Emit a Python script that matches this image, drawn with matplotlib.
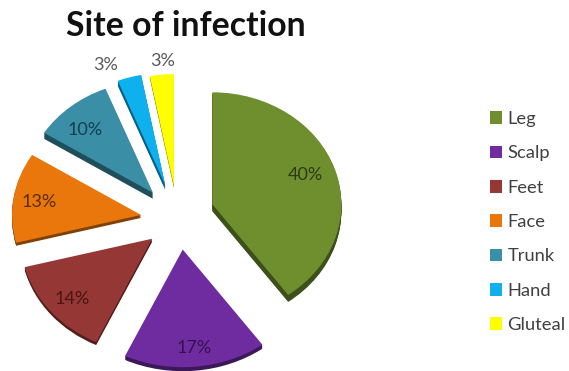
import matplotlib
matplotlib.use("Agg")
import matplotlib.pyplot as plt
import numpy as np
from matplotlib.colors import to_rgb

categories = ["Leg", "Scalp", "Feet", "Face", "Trunk", "Hand", "Gluteal"]
values = [40, 17, 14, 13, 10, 3, 3]
labels = ["40%", "17%", "14%", "13%", "10%", "3%", "3%"]
colors = ["#6f8f2f", "#6f2ca0", "#953735", "#e9770c", "#3a8ea6", "#0fb0ee", "#ffff00"]
explode = [0.28, 0.31, 0.29, 0.29, 0.28, 0.27, 0.25]
radii = [1.0, 1.05, 1.02, 1.0, 1.0, 1.0, 1.0]
nudge_px = [(0, 0), (1, -1), (3, -4), (0, -6), (-2, -3), (-3, 0), (-1, 0)]
depths = [7, 4, 3, 3, 6, 5, 2]
label_dist = [0.75, 0.86, 0.80, 0.80, 0.80, 1.17, 1.15]
label_nudge = [(1, 3), (1, -3), (-1, -3), (0, -1), (-2, -6), (-18, -6), (3, -3)]
label_colors = ["#2c3a12", "#33134f", "#4a1513", "#5c2c02", "#123f4c", "#595959", "#595959"]

W, H = 569, 371
cx, cy, rx, ry = 178, 214, 129, 112

fig = plt.figure(figsize=(W / 100, H / 100), dpi=100)
ax = fig.add_axes([0, 0, 1, 1])


def draw(cols, drop_px=0):
    wedges, _ = ax.pie(values, explode=explode, colors=cols, startangle=90, counterclock=False,
                       radius=1, wedgeprops=dict(linewidth=0))
    for w, r, n, d in zip(wedges, radii, nudge_px, depths):
        w.set_center((w.center[0] + n[0] / rx, w.center[1] + (n[1] - drop_px) / ry))
        w.set_radius(r)
        if drop_px > d:
            w.set_visible(False)
    return wedges


dark = [tuple(c * 0.55 for c in to_rgb(col)) for col in colors]
for i in range(max(depths), 0, -1):
    draw(dark, i)
wedges = draw(colors)

ax.set_aspect("auto")
ax.set_xlim(-cx / rx, (W - cx) / rx)
ax.set_ylim(-(H - cy) / ry, cy / ry)
ax.axis("off")

font = ["Lato", "DejaVu Sans"]
for w, t, d, n, c in zip(wedges, labels, label_dist, label_nudge, label_colors):
    a = np.deg2rad((w.theta1 + w.theta2) / 2)
    x = w.center[0] + d * np.cos(a)
    y = w.center[1] + d * np.sin(a)
    ax.annotate(t, (x, y), xytext=(n[0] * 0.72, n[1] * 0.72), textcoords="offset points",
                ha="center", va="center", fontsize=13, color=c, family=font)

fig.text(185.5 / W, 1 - 26.5 / H, "Site of infection", ha="center", va="center",
         fontsize=24.3, fontweight="bold", color="#111111", family=["Lato", "DejaVu Sans"])

leg = ax.legend(wedges, categories, loc="upper left", bbox_to_anchor=(490 / W, 1 - 111 / H),
                bbox_transform=fig.transFigure, frameon=False, borderpad=0, borderaxespad=0,
                prop=dict(family="Lato", size=13.2), labelspacing=1.0,
                handlelength=0.68, handleheight=0.68, handletextpad=0.28)
for t in leg.get_texts():
    t.set_color("#404040")

fig.savefig("out.png", dpi=100)
